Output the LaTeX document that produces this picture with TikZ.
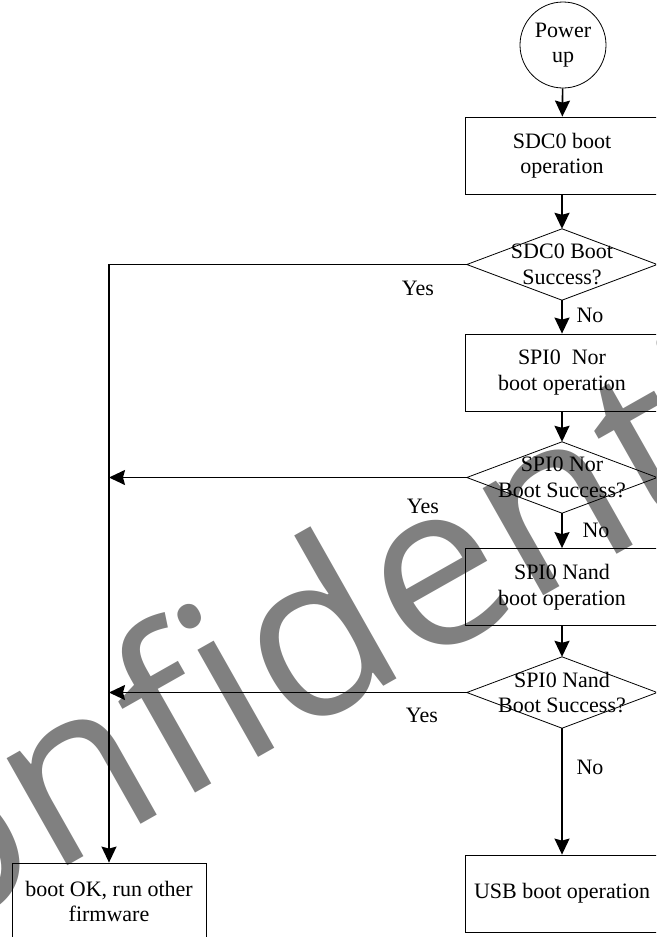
\documentclass[tikz,border=0pt]{standalone}
\usepackage{fontspec}
\setmainfont{Liberation Serif}
\newfontfamily\wmfont{Open Sans}
\usetikzlibrary{arrows.meta}
\definecolor{wmgray}{RGB}{128,128,128}
\begin{document}
\begin{tikzpicture}[x=1pt,y=-1pt,
  txt/.style={font=\fontsize{22}{25.5}\selectfont, align=center},
  box/.style={txt, draw, line width=0.8pt, minimum width=194pt, minimum height=77pt, inner sep=0pt},
  diabox/.style={txt, minimum width=190pt, minimum height=71pt, inner sep=0pt},
  diaedge/.style={line width=0.8pt},
  conn/.style={line width=1.6pt, -{Stealth[length=16pt,width=15pt,inset=2pt]}},
  lbl/.style={txt, inner sep=0pt}]
\useasboundingbox (0,0) rectangle (656,937);
\clip (0,0) rectangle (656,937);
% watermark
\node[anchor=base west, inner sep=0pt, rotate=29.5, text=wmgray,
  font=\wmfont\fontsize{230}{230}\selectfont] (wm) at (-197,1015) {Confidential};
% nodes
\node[txt, draw, circle, line width=0.8pt, minimum size=86pt, inner sep=0pt] (pu) at (563,45) {Power\\up};
\node[box] (sdc) at (562,155.5) {SDC0 boot\\operation};
\node[diabox] (d1) at (562,264.5) {SDC0 Boot\\Success?};
\node[box] (nor) at (562,372.5) {SPI0\ \ Nor\\boot operation};
\node[diabox] (d2) at (562,477.5) {SPI0 Nor\\Boot Success?};
\node[box] (nand) at (562,587) {SPI0 Nand\\boot operation};
\node[diabox] (d3) at (562,692.5) {SPI0 Nand\\Boot Success?};
\node[box] (usb) at (562,893.5) {USB boot operation};
\node[box] (ok) at (109,901.5) {boot OK, run other\\firmware};
\foreach \d in {d1,d2,d3}
  \draw[diaedge] (\d.north) -- (\d.east) -- (\d.south) -- (\d.west) -- cycle;
% labels
\node[lbl] (y1) at (418,288) {Yes};
\node[lbl] (y2) at (423,506) {Yes};
\node[lbl] (y3) at (422,715) {Yes};
\node[lbl] (n1) at (590,315) {No};
\node[lbl] (n2) at (596,530) {No};
\node[lbl] (n3) at (590,767) {No};
% connectors
\coordinate (j2) at (ok.north |- d2.west);
\coordinate (j3) at (ok.north |- d3.west);
\draw[conn] (pu) -- (sdc);
\draw[conn] (sdc) -- (d1.north);
\draw[conn] (d1.south) -- (nor);
\draw[conn] (nor) -- (d2.north);
\draw[conn] (d2.south) -- (nand);
\draw[conn] (nand) -- (d3.north);
\draw[conn] (d3.south) -- (usb);
\draw[conn] (d1.west) -| (ok.north);
\draw[conn] (d2.west) -- (j2);
\draw[conn] (d3.west) -- (j3);
\end{tikzpicture}
\end{document}
